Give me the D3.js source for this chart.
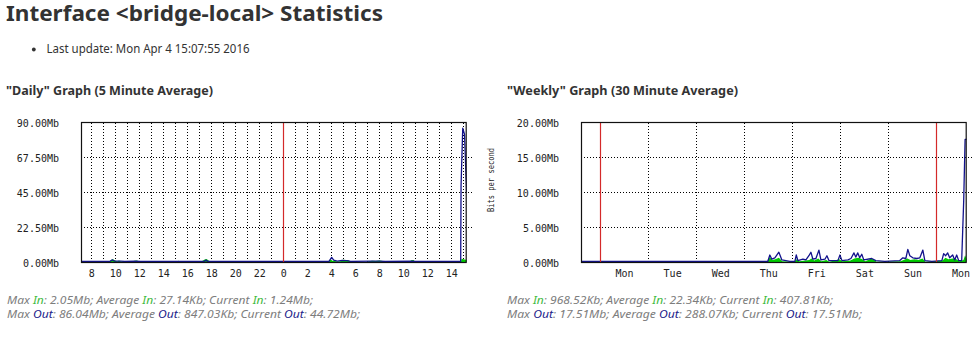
<!DOCTYPE html>
<html>
<head>
<meta charset="utf-8">
<script src="https://cdn.jsdelivr.net/npm/d3@7"></script>
<style>
  html, body { margin: 0; padding: 0; background: #fff; }
  svg { display: block; }
</style>
</head>
<body>
<svg id="page" width="977" height="342"></svg>
<script>
// ---- Daily graph (5 minute average), hours relative to Monday 00:00, values in Mb/s ----
const dailyInHours = [-16.86, -14.6, -14.4, -14.2, -14.0, -13.85, -13.7, -13.5, -13.3, -13.1, -12.7, -12.4, -12.2, -12.0, -11.8,
  -8.95, -8.75, -8.55, -6.9, -6.7, -6.55, -6.4, -6.25, -6.1, -5.95,
  3.75, 3.95, 4.1, 4.3, 4.5, 4.75, 4.95, 5.2, 5.45, 5.6, 5.8,
  6.9, 7.1, 7.4, 7.7, 8.0, 8.3, 8.5, 8.7, 10.5, 10.65, 10.85, 11.0, 14.8, 14.85, 15.28];
const dailyIn = [0.05, 0.05, 1.2, 1.7, 1.0, 0.4, 0.9, 0.3, 0.7, 0.2, 0.3, 0.8, 0.9, 0.3, 0.05,
  0.05, 0.8, 0.05, 0.05, 1.0, 1.6, 1.9, 1.2, 0.3, 0.05,
  0.05, 1.6, 0.8, 0.6, 0.4, 0.5, 1.4, 1.3, 1.2, 0.3, 0.05,
  0.05, 0.5, 0.8, 0.6, 0.9, 0.7, 0.2, 0.05, 0.05, 1.2, 1.3, 0.05, 0.05, 2.05, 1.24];

const dailyOutHours = [-16.86, -14.45, -14.25, -14.05, -13.6, -13.2, -12.3, -11.9,
  -6.6, -6.45, -6.3, 3.8, 4.03, 4.2, 4.5, 4.9, 5.3, 5.6, 7.5, 8.0, 8.5, 10.8, 11.0,
  14.78, 14.81, 14.95, 15.1, 15.2, 15.28];
const dailyOut = [0.35, 0.35, 1.4, 0.5, 0.6, 0.4, 0.5, 0.35,
  0.4, 1.2, 0.4, 0.35, 3.0, 1.2, 0.6, 1.0, 0.9, 0.4, 0.5, 0.6, 0.35, 0.6, 0.35,
  0.35, 49, 86.04, 82, 60, 44.72];

const dailyYTicks = [0, 22.5, 45, 67.5, 90];
const dailyGridHours = [-16, -15, -14, -13, -12, -11, -10, -9, -8, -7, -6, -5, -4, -3, -2, -1,
  1, 2, 3, 4, 5, 6, 7, 8, 9, 10, 11, 12, 13, 14, 15];
const dailyMarkHours = [0];
const dailyLabelHours = [-16, -14, -12, -10, -8, -6, -4, -2, 0, 2, 4, 6, 8, 10, 12, 14];
const dailyLabels = ["8", "10", "12", "14", "16", "18", "20", "22", "0", "2", "4", "6", "8", "10", "12", "14"];

// ---- Weekly graph (30 minute average), hours relative to Monday 28 Mar 00:00, values in Mb/s ----
const weeklyInHours = [-9.5, 83.5, 84.8, 86, 87.5, 89.3, 91, 97, 98, 99.5, 104.5, 105.5, 107, 109, 110.5, 113, 114.5,
  119.5, 121, 125, 127, 129, 131, 132.5, 135.5, 137, 138, 150, 153.5, 155, 157, 159, 161, 162.5,
  171, 172.5, 174, 176, 178, 179.5, 181.5, 182.3, 183.1];
const weeklyIn = [0.05, 0.05, 0.7, 0.3, 0.4, 0.6, 0.1, 0.05, 0.4, 0.1, 0.3, 0.5, 0.2, 0.5, 0.1, 0.3, 0.05,
  0.4, 0.1, 0.2, 0.5, 0.6, 0.4, 0.1, 0.5, 0.3, 0.05, 0.1, 0.5, 0.3, 0.4, 0.3, 0.5, 0.05,
  0.2, 0.6, 0.4, 0.5, 0.4, 0.1, 0.3, 0.97, 0.41];

const weeklyOutHours = [-9.5, 83.8, 84.8, 85.8, 87.3, 89.3, 90.8, 94.8,
  97.3, 98.0, 98.8, 101.3, 102.8, 104.3, 105.3, 106.3, 107.8, 109.3, 110.3, 112.3, 113.3, 114.3,
  118.8, 119.8, 120.8, 123.8, 125.3, 126.8, 127.7, 128.7, 129.7, 130.7, 131.7, 135.7, 137.7, 142.2,
  149.7, 151.2, 152.7, 153.7, 154.7, 156.2, 158.2, 159.7, 161.2, 162.2, 165.7,
  170.7, 171.6, 172.6, 173.6, 174.6, 176.1, 177.1, 178.1, 179.1, 180.6, 181.6, 182.3, 183.1];
const weeklyOut = [0.1, 0.1, 1.0, 0.4, 0.6, 1.4, 0.3, 0.1,
  0.1, 1.0, 0.2, 0.4, 0.3, 0.9, 1.4, 0.4, 0.5, 1.7, 0.3, 0.4, 0.9, 0.2,
  0.2, 1.0, 0.2, 0.3, 0.5, 1.3, 0.7, 1.3, 0.6, 1.1, 0.3, 0.5, 0.2, 0.1,
  0.2, 0.6, 0.5, 1.8, 0.9, 0.6, 0.5, 0.6, 1.7, 0.2, 0.1,
  0.2, 1.2, 0.9, 1.3, 0.6, 1.0, 0.3, 1.0, 0.2, 0.2, 8.7, 17.51, 17.51];

const weeklyYTicks = [0, 5, 10, 15, 20];
const weeklyGridHours = [24, 48, 72, 96, 120, 144];
const weeklyMarkHours = [0, 168];
const weeklyLabelHours = [12, 36, 60, 84, 108, 132, 156, 180];
const weeklyLabels = ["Mon", "Tue", "Wed", "Thu", "Fri", "Sat", "Sun", "Mon"];

// ---- Summary figures printed under each graph ----
const statNames = ["Max", "Average", "Current"];
const dailyStatsIn = ["2.05Mb", "27.14Kb", "1.24Mb"];
const dailyStatsOut = ["86.04Mb", "847.03Kb", "44.72Mb"];
const weeklyStatsIn = ["968.52Kb", "22.34Kb", "407.81Kb"];
const weeklyStatsOut = ["17.51Mb", "288.07Kb", "17.51Mb"];

// ---- Drawing ----
const svg = d3.select("#page");
const TEXT = "#333333";
const IN_COLOR = "#00cc00";
const OUT_COLOR = "#12128c";
const MARK_COLOR = "#d42a2a";
const LABEL_IN = "#3dbb3d";
const LABEL_OUT = "#1c1c8a";
const STAT_GRAY = "#7d7d7d";
const SANS = "'Noto Sans', 'Open Sans', sans-serif";
const MONO = "'DejaVu Sans Mono', 'Liberation Mono', monospace";

svg.append("rect").attr("width", 977).attr("height", 342).attr("fill", "#fff");

svg.append("text")
  .attr("x", 6).attr("y", 21)
  .attr("font-family", SANS).attr("font-weight", 700).attr("font-size", 21)
  .attr("fill", TEXT)
  .attr("textLength", 377).attr("lengthAdjust", "spacingAndGlyphs")
  .text("Interface <bridge-local> Statistics");

svg.append("circle").attr("cx", 33.8).attr("cy", 49.5).attr("r", 1.9).attr("fill", TEXT);
svg.append("text")
  .attr("x", 46.5).attr("y", 53.3)
  .attr("font-family", SANS).attr("font-size", 12).attr("fill", TEXT)
  .attr("textLength", 203).attr("lengthAdjust", "spacingAndGlyphs")
  .text("Last update: Mon Apr 4 15:07:55 2016");

function heading(x, label, len) {
  svg.append("text")
    .attr("x", x).attr("y", 95)
    .attr("font-family", SANS).attr("font-weight", 700).attr("font-size", 13)
    .attr("fill", TEXT)
    .attr("textLength", len).attr("lengthAdjust", "spacingAndGlyphs")
    .text(label);
}
heading(6, "\"Daily\" Graph (5 Minute Average)", 207);
heading(507, "\"Weekly\" Graph (30 Minute Average)", 231);

const PLOT_TOP = 122, PLOT_BOTTOM = 262;

function drawGraph(cfg) {
  const g = svg.append("g");
  const w = cfg.right - cfg.left, h = PLOT_BOTTOM - PLOT_TOP;
  const x = d3.scaleLinear().domain(cfg.xDomain).range([cfg.left, cfg.right]);
  const y = d3.scaleLinear().domain([0, d3.max(cfg.yTicks)]).range([PLOT_BOTTOM, PLOT_TOP]);

  // dotted horizontal grid
  g.append("g")
    .attr("transform", `translate(${cfg.left},0)`)
    .call(d3.axisLeft(y).tickValues(cfg.yTicks.slice(1, -1)).tickSize(-w - 3).tickFormat(""))
    .call(a => a.select(".domain").remove())
    .call(a => a.selectAll("line").attr("transform", "translate(3,0)")
      .attr("stroke", "#000").attr("stroke-dasharray", "1,2").attr("shape-rendering", "crispEdges"));

  // dotted vertical grid
  g.append("g")
    .attr("transform", `translate(0,${PLOT_BOTTOM})`)
    .call(d3.axisBottom(x).tickValues(cfg.gridHours).tickSize(-h).tickFormat(""))
    .call(a => a.select(".domain").remove())
    .call(a => a.selectAll("line")
      .attr("stroke", "#000").attr("stroke-dasharray", "1,2").attr("shape-rendering", "crispEdges"));

  const clipId = cfg.name + "-clip";
  g.append("clipPath").attr("id", clipId)
    .append("rect").attr("x", cfg.left).attr("y", PLOT_TOP).attr("width", w).attr("height", h);
  const data = g.append("g").attr("clip-path", `url(#${clipId})`);

  const inPts = cfg.inHours.map((t, i) => [t, cfg.inValues[i]]);
  const outPts = cfg.outHours.map((t, i) => [t, cfg.outValues[i]]);

  data.append("path")
    .datum(inPts)
    .attr("fill", IN_COLOR)
    .attr("d", d3.area().x(d => x(d[0])).y0(y(0)).y1(d => y(d[1])));

  data.append("path")
    .datum(outPts)
    .attr("fill", "none").attr("stroke", OUT_COLOR).attr("stroke-width", 1.3)
    .attr("stroke-linejoin", "round")
    .attr("d", d3.line().x(d => x(d[0])).y(d => y(d[1])));

  // red marker lines at the start of the day / week
  g.selectAll(null).data(cfg.markHours).join("line")
    .attr("x1", d => Math.round(x(d)) + 0.5).attr("x2", d => Math.round(x(d)) + 0.5)
    .attr("y1", PLOT_TOP).attr("y2", PLOT_BOTTOM)
    .attr("stroke", MARK_COLOR).attr("stroke-width", 1.2);

  // frame
  g.append("rect")
    .attr("x", cfg.left + 0.5).attr("y", PLOT_TOP + 0.5)
    .attr("width", w - 1).attr("height", h)
    .attr("fill", "none").attr("stroke", "#111").attr("stroke-width", 1.2);

  // value labels
  g.append("g")
    .attr("transform", `translate(${cfg.left},0)`)
    .call(d3.axisLeft(y).tickValues(cfg.yTicks).tickSize(0).tickPadding(22)
      .tickFormat(v => d3.format(".2f")(v) + "Mb"))
    .call(a => a.select(".domain").remove())
    .call(a => a.selectAll("text")
      .attr("font-family", MONO).attr("font-size", 10).attr("fill", "#222").attr("dy", "0.42em"));

  // time labels
  g.append("g")
    .attr("transform", `translate(0,${PLOT_BOTTOM})`)
    .call(d3.axisBottom(x).tickValues(cfg.labelHours).tickSize(0).tickPadding(8)
      .tickFormat((v, i) => cfg.labels[i]))
    .call(a => a.select(".domain").remove())
    .call(a => a.selectAll("text")
      .attr("font-family", MONO).attr("font-size", 10).attr("fill", "#222"));

  // summary lines
  const rows = [["In", cfg.statsIn, LABEL_IN, cfg.lenIn], ["Out", cfg.statsOut, LABEL_OUT, cfg.lenOut]];
  rows.forEach(([dir, vals, col, len], r) => {
    const t = svg.append("text")
      .attr("x", cfg.statsX).attr("y", 304 + r * 14)
      .attr("font-family", SANS).attr("font-style", "italic").attr("font-size", 11)
      .attr("fill", STAT_GRAY)
      .attr("textLength", len).attr("lengthAdjust", "spacingAndGlyphs");
    statNames.forEach((name, i) => {
      t.append("tspan").text((i ? " " : "") + name + " ");
      t.append("tspan").attr("fill", col).text(dir);
      t.append("tspan").text(": " + vals[i] + ";");
    });
  });
}

drawGraph({
  name: "daily", left: 81, right: 466.7, xDomain: [-16.86, 15.28],
  yTicks: dailyYTicks, gridHours: dailyGridHours, markHours: dailyMarkHours,
  labelHours: dailyLabelHours, labels: dailyLabels,
  inHours: dailyInHours, inValues: dailyIn, outHours: dailyOutHours, outValues: dailyOut,
  statsIn: dailyStatsIn, statsOut: dailyStatsOut, statsX: 7, lenIn: 306, lenOut: 353
});

drawGraph({
  name: "weekly", left: 581, right: 966.7, xDomain: [-9.5, 183.1],
  yTicks: weeklyYTicks, gridHours: weeklyGridHours, markHours: weeklyMarkHours,
  labelHours: weeklyLabelHours, labels: weeklyLabels,
  inHours: weeklyInHours, inValues: weeklyIn, outHours: weeklyOutHours, outValues: weeklyOut,
  statsIn: weeklyStatsIn, statsOut: weeklyStatsOut, statsX: 507, lenIn: 326, lenOut: 355
});

// axis caption beside the weekly graph
svg.append("text")
  .attr("transform", "translate(494,180) rotate(-90)")
  .attr("text-anchor", "middle")
  .attr("font-family", MONO).attr("font-size", 9.5).attr("fill", "#222")
  .attr("textLength", 64).attr("lengthAdjust", "spacingAndGlyphs")
  .text("Bits per second");
</script>
</body>
</html>
